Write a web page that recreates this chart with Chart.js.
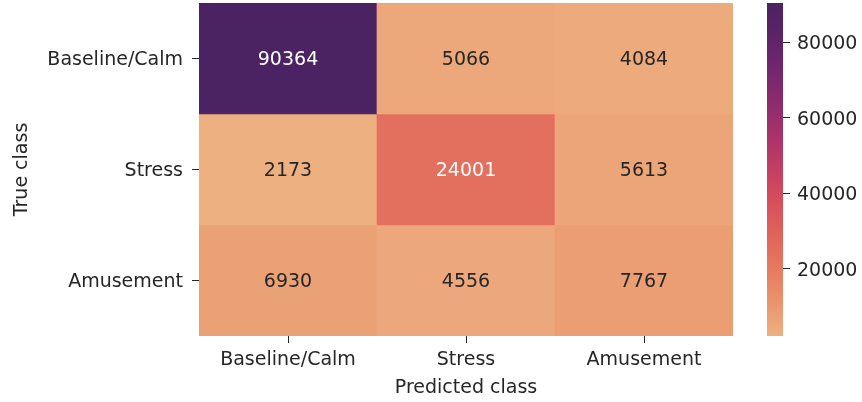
<!DOCTYPE html>
<html>
<head>
<meta charset="utf-8">
<script src="https://cdn.jsdelivr.net/npm/chart.js@4.4.1/dist/chart.umd.min.js"></script>
<style>
  html, body { margin: 0; padding: 0; background: #ffffff; }
  #wrap { position: relative; width: 862px; height: 402px; }
  #wrap canvas { position: absolute; left: 0; top: 0; }
</style>
</head>
<body>
<div id="wrap">
  <canvas id="heat" width="862" height="402"></canvas>
  <canvas id="cbar" width="862" height="402"></canvas>
</div>
<script>
// Confusion matrix: rows = true class, columns = predicted class
const predictedClasses = ['Baseline/Calm', 'Stress', 'Amusement'];
const trueClasses = ['Baseline/Calm', 'Stress', 'Amusement'];
const countsBaseline = [90364, 5066, 4084];
const countsStress = [2173, 24001, 5613];
const countsAmusement = [6930, 4556, 7767];
const colorbarTicks = [20000, 40000, 60000, 80000];
const xTitle = 'Predicted class';
const yTitle = 'True class';

const rows = [countsBaseline, countsStress, countsAmusement];
const allCounts = rows.flat();
const vmin = Math.min(...allCounts);
const vmax = Math.max(...allCounts);

const FONT = 'DejaVu Sans';
const FONT_SIZE = 19;
const TEXT = '#262626';
const TEXT_DROP = 2; // nudges text down so it sits centred like matplotlib's
Chart.defaults.font.family = FONT;
Chart.defaults.font.size = FONT_SIZE;
Chart.defaults.color = TEXT;

// "flare"-style colormap: light peach -> coral -> crimson -> magenta -> purple
const flareStops = [
  [0.0, [237, 176, 129]],
  [0.1, [234, 148, 109]],
  [0.2, [230, 122, 97]],
  [0.3, [224, 100, 90]],
  [0.4, [214, 80, 91]],
  [0.5, [196, 62, 98]],
  [0.6, [170, 50, 107]],
  [0.7, [142, 43, 110]],
  [0.8, [116, 38, 110]],
  [0.9, [94, 35, 104]],
  [1.0, [75, 35, 98]]
];

function flareRgb(t) {
  t = Math.max(0, Math.min(1, t));
  for (let k = 1; k < flareStops.length; k++) {
    const [t1, c1] = flareStops[k];
    const [t0, c0] = flareStops[k - 1];
    if (t <= t1) {
      const f = (t - t0) / (t1 - t0);
      return c0.map((c, n) => Math.round(c + (c1[n] - c) * f));
    }
  }
  return flareStops[flareStops.length - 1][1];
}
const norm = v => (v - vmin) / (vmax - vmin);
const cellColor = v => `rgb(${flareRgb(norm(v)).join(',')})`;

function isDark(v) {
  const lin = flareRgb(norm(v)).map(c => {
    c /= 255;
    return c <= 0.03928 ? c / 12.92 : Math.pow((c + 0.055) / 1.055, 2.4);
  });
  return 0.2126 * lin[0] + 0.7152 * lin[1] + 0.0722 * lin[2] < 0.408;
}

// Keeps a scale from reserving room for tick labels past the plot edges
function noEdgePadding(s) {
  s.paddingTop = 0;
  s.paddingBottom = 0;
}

// Writes each cell's count at the centre of its bar
const cellLabels = {
  id: 'cellLabels',
  afterDatasetsDraw(chart) {
    const ctx = chart.ctx;
    ctx.save();
    ctx.font = `${FONT_SIZE}px "${FONT}"`;
    ctx.textAlign = 'center';
    ctx.textBaseline = 'middle';
    chart.data.datasets.forEach((ds, i) => {
      chart.getDatasetMeta(i).data.forEach((bar, j) => {
        const v = ds.counts[j];
        const { x, y, base } = bar.getProps(['x', 'y', 'base'], true);
        ctx.fillStyle = isDark(v) ? '#ffffff' : TEXT;
        ctx.fillText(String(v), x, (y + base) / 2 + TEXT_DROP);
      });
    });
    ctx.restore();
  }
};

new Chart(document.getElementById('heat'), {
  type: 'bar',
  data: {
    labels: predictedClasses,
    datasets: rows.map((counts, i) => ({
      label: trueClasses[i],
      counts: counts,
      data: counts.map(() => [i - 0.5, i + 0.5]),
      backgroundColor: counts.map(cellColor),
      borderWidth: 0,
      grouped: false,
      barPercentage: 1,
      categoryPercentage: 1
    }))
  },
  options: {
    responsive: false,
    animation: false,
    layout: { padding: { top: 3, right: 129, left: 0, bottom: 0 } },
    plugins: { legend: { display: false }, tooltip: { enabled: false } },
    scales: {
      x: {
        grid: { offset: false, drawOnChartArea: false, drawTicks: true, tickLength: 7, color: TEXT },
        border: { display: false },
        ticks: { color: TEXT, padding: 6, maxRotation: 0, autoSkip: false },
        title: { display: true, text: xTitle, color: TEXT, padding: { top: 0, bottom: 3 } },
        afterFit: s => { s.height = 66; }
      },
      y: {
        type: 'linear',
        reverse: true,
        min: -0.5,
        max: 2.5,
        afterBuildTicks: s => { s.ticks = trueClasses.map((_, i) => ({ value: i })); },
        grid: { drawOnChartArea: false, drawTicks: true, tickLength: 7, color: TEXT },
        border: { display: false },
        ticks: { color: TEXT, padding: 9, labelOffset: TEXT_DROP, autoSkip: false, callback: v => trueClasses[v] },
        title: { display: true, text: yTitle, color: TEXT, padding: { top: 11, bottom: 0 } },
        afterFit: s => { s.width = 199; noEdgePadding(s); }
      }
    }
  },
  plugins: [cellLabels]
});

// Colour bar: one floating bar spanning the data range, filled with the colormap
function colorbarFill(chart) {
  const area = chart.chartArea;
  const yScale = chart.scales.y;
  if (!area || !yScale) return cellColor(vmin);
  const g = chart.ctx.createLinearGradient(0, yScale.getPixelForValue(vmin), 0, yScale.getPixelForValue(vmax));
  flareStops.forEach(([t, c]) => g.addColorStop(t, `rgb(${c.join(',')})`));
  return g;
}

new Chart(document.getElementById('cbar'), {
  type: 'bar',
  data: {
    labels: [''],
    datasets: [{
      data: [[vmin, vmax]],
      backgroundColor: ctx => colorbarFill(ctx.chart),
      borderWidth: 0,
      barPercentage: 1,
      categoryPercentage: 1
    }]
  },
  options: {
    responsive: false,
    animation: false,
    layout: { padding: { top: 3, bottom: 66, left: 767, right: 0 } },
    plugins: { legend: { display: false }, tooltip: { enabled: false } },
    scales: {
      x: { display: false },
      y: {
        position: 'right',
        min: vmin,
        max: vmax,
        afterBuildTicks: s => { s.ticks = colorbarTicks.map(v => ({ value: v })); },
        grid: { drawOnChartArea: false, drawTicks: true, tickLength: 7, color: TEXT },
        border: { display: false },
        ticks: { color: TEXT, padding: 7, labelOffset: TEXT_DROP, callback: v => String(v) },
        afterFit: s => { s.width = 862 - 783; noEdgePadding(s); }
      }
    }
  }
});
</script>
</body>
</html>
